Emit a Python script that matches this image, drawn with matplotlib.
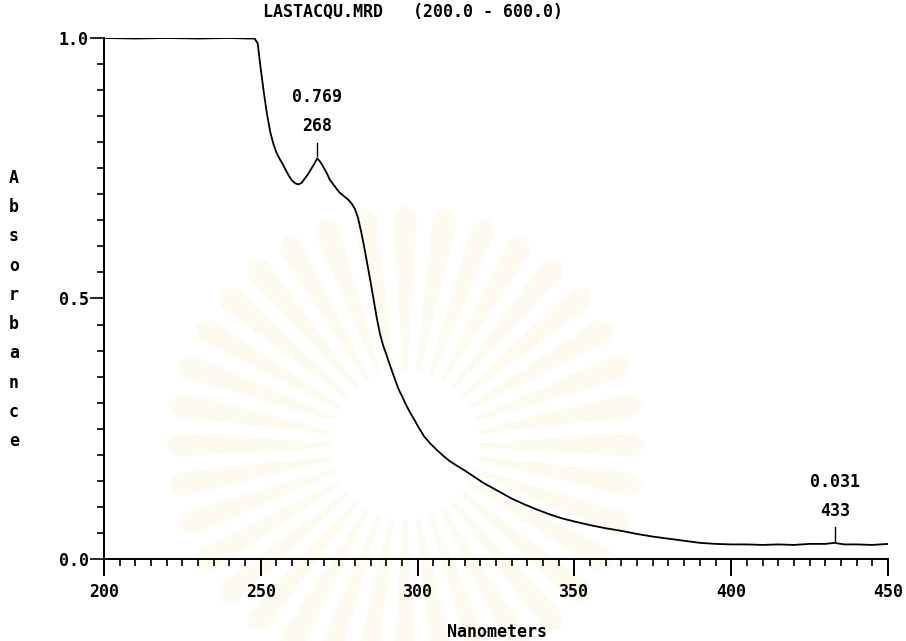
import numpy as np
import matplotlib
matplotlib.use("Agg")
import matplotlib.pyplot as plt
from matplotlib.patches import Polygon

# Spectrum readings (nm, absorbance)
wavelength = [200, 210, 220, 230, 240, 246, 248, 249, 250, 251, 252, 253, 254, 255,
              256, 257, 258, 259, 260, 261, 262, 263, 264, 265, 266, 267, 268, 269,
              270, 271, 272, 273, 274, 275, 276, 277, 278, 279, 280, 281, 282, 283,
              284, 285, 286, 287, 288, 289, 290, 291, 292, 293, 294, 295, 296, 297,
              298, 299, 300, 302, 304, 306, 308, 310, 312, 315, 318, 321, 324, 327,
              330, 334, 338, 342, 346, 350, 355, 360, 365, 370, 375, 380, 385, 390,
              395, 400, 405, 410, 415, 420, 425, 430, 433, 436, 440, 445, 450]
absorbance = [1.000, 0.999, 1.000, 0.999, 1.000, 0.999, 0.999, 0.990, 0.940, 0.894,
              0.853, 0.820, 0.797, 0.780, 0.768, 0.758, 0.746, 0.735, 0.726, 0.721,
              0.719, 0.722, 0.730, 0.738, 0.748, 0.758, 0.769, 0.762, 0.752, 0.741,
              0.728, 0.720, 0.712, 0.704, 0.699, 0.694, 0.689, 0.682, 0.672, 0.655,
              0.628, 0.598, 0.565, 0.532, 0.497, 0.462, 0.432, 0.410, 0.393, 0.375,
              0.358, 0.341, 0.325, 0.313, 0.300, 0.288, 0.277, 0.267, 0.256, 0.236,
              0.222, 0.210, 0.199, 0.189, 0.181, 0.170, 0.158, 0.146, 0.136, 0.126,
              0.116, 0.105, 0.095, 0.086, 0.078, 0.072, 0.065, 0.059, 0.054, 0.048,
              0.043, 0.039, 0.035, 0.031, 0.029, 0.028, 0.028, 0.027, 0.028, 0.027,
              0.029, 0.029, 0.031, 0.028, 0.028, 0.027, 0.029]

# Labelled peaks
peak_nm = [268, 433]
peak_abs = [0.769, 0.031]

x_major = [200, 250, 300, 350, 400, 450]
y_major = [0.0, 0.5, 1.0]
y_major_labels = ["0.0", "0.5", "1.0"]

title_text = "LASTACQU.MRD   (200.0 - 600.0)"
x_label = "Nanometers"
y_label = "Absorbance"

W, H = 906, 641
FONT = dict(family="DejaVu Sans Mono", weight="bold", size=12)

fig = plt.figure(figsize=(W / 100, H / 100), dpi=100)
fig.patch.set_facecolor("white")


def fx(px):
    return px / W


def fy(py):
    return 1 - py / H


# faint sunburst emblem in the background
cx, cy = 405, 445
n_rays = 36
for i in range(n_rays):
    a = 2 * np.pi * i / n_rays
    half = np.pi / n_rays * 0.6
    r0, r1 = 75, 230
    pts = [
        (cx + r0 * np.cos(a - half * 0.5), cy + r0 * np.sin(a - half * 0.5)),
        (cx + r1 * np.cos(a - half), cy + r1 * np.sin(a - half)),
        (cx + (r1 + 12) * np.cos(a), cy + (r1 + 12) * np.sin(a)),
        (cx + r1 * np.cos(a + half), cy + r1 * np.sin(a + half)),
        (cx + r0 * np.cos(a + half * 0.5), cy + r0 * np.sin(a + half * 0.5)),
    ]
    fig.patches.append(Polygon([(fx(p), fy(q)) for p, q in pts], closed=True,
                               transform=fig.transFigure, facecolor="#fdfaef",
                               edgecolor="none", zorder=-5))

ax = fig.add_axes([fx(104), fy(559), fx(888) - fx(104), (559 - 38) / H])
ax.set_zorder(2)
ax.set_facecolor("none")
ax.plot(wavelength, absorbance, color="black", lw=1.3, zorder=3)

ax.set_xlim(200, 450)
ax.set_ylim(0, 1.0)
for s in ["top", "right"]:
    ax.spines[s].set_visible(False)
for s in ["left", "bottom"]:
    ax.spines[s].set_linewidth(1.4)
    ax.spines[s].set_color("black")

ax.set_xticks(x_major)
ax.set_xticklabels([str(v) for v in x_major], fontdict=FONT)
ax.set_xticks(np.arange(200, 451, 5), minor=True)
ax.set_yticks(y_major)
ax.set_yticklabels(y_major_labels, fontdict=FONT)
ax.set_yticks(np.arange(0, 1.001, 0.05), minor=True)
ax.tick_params(axis="x", which="major", direction="out", length=12, width=1.4, pad=5)
ax.tick_params(axis="x", which="minor", direction="out", length=5, width=1.2)
ax.tick_params(axis="y", which="major", direction="out", length=10, width=1.2, pad=1)
ax.tick_params(axis="y", which="minor", direction="out", length=5, width=1.2)

for nm, val in zip(peak_nm, peak_abs):
    ax.plot([nm, nm], [val + 0.004, val + 0.03], color="black", lw=1.0)
    ax.annotate(str(nm), xy=(nm, val), xytext=(0, 23), textcoords="offset points",
                ha="center", va="center", **FONT)
    ax.annotate(f"{val:.3f}", xy=(nm, val), xytext=(0, 44), textcoords="offset points",
                ha="center", va="center", **FONT)

fig.text(fx(413), fy(12), title_text, ha="center", va="center", **FONT)
fig.text(fx(497), fy(632), x_label, ha="center", va="center", **FONT)

ys = np.linspace(178, 441, len(y_label))
for ch, yp in zip(y_label, ys):
    fig.text(fx(14), fy(yp), ch, ha="center", va="center", **FONT)

fig.savefig("out.png", dpi=100, facecolor="white")
